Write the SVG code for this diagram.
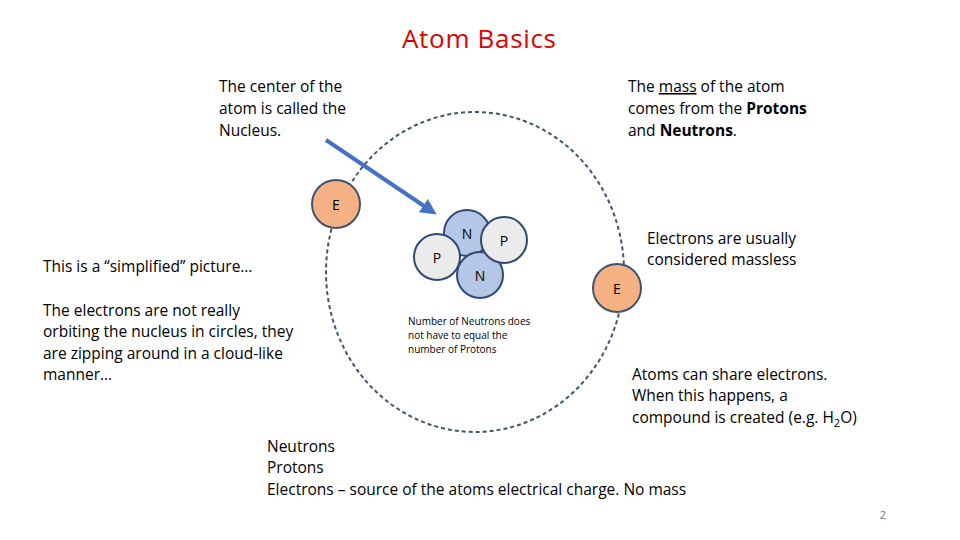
<svg xmlns="http://www.w3.org/2000/svg" width="960" height="540" viewBox="0 0 960 540">
<style>
text{font-family:"Open Sans","Liberation Sans",sans-serif;fill:#000}
.t{font-size:15.5px}
.e{fill:#f4b183;stroke:#41546e;stroke-width:2}
.p{fill:#ebebeb;stroke:#2f4a73;stroke-width:2}
.n{fill:#b4c7e7;stroke:#2f4a73;stroke-width:2}
.l{font-size:14px;text-anchor:middle}
</style>
<defs><marker id="ah" markerWidth="4" markerHeight="4" refX="2" refY="2" orient="auto"><path d="M0,0L4,2L0,4z" fill="#4472c4"/></marker></defs>
<rect width="960" height="540" fill="#fff"/>
<text x="479" y="48" text-anchor="middle" font-size="26" style="fill:#e00000" textLength="154">Atom Basics</text>
<ellipse id="orbit" cx="475" cy="272" rx="149" ry="160" fill="none" stroke="#41546e" stroke-width="2" stroke-dasharray="4,3"/>
<g id="connectors"><line x1="326" y1="140" x2="430" y2="210" stroke="#4472c4" stroke-width="4" marker-end="url(#ah)"/></g>
<g id="n1"><circle class="n" cx="467" cy="233" r="23"/><text class="l" x="467" y="239">N</text></g>
<g id="n2"><circle class="n" cx="480" cy="275" r="23"/><text class="l" x="480" y="281">N</text></g>
<g id="p1"><circle class="p" cx="437" cy="257" r="23"/><text class="l" x="437" y="263">P</text></g>
<g id="p2"><circle class="p" cx="504" cy="240" r="23"/><text class="l" x="504" y="246">P</text></g>
<g id="e1"><circle class="e" cx="336" cy="204" r="24"/><text class="l" x="336" y="210">E</text></g>
<g id="e2"><circle class="e" cx="617" cy="288" r="24"/><text class="l" x="617" y="294">E</text></g>
<text class="t" x="219" y="92">The center of the</text>
<text class="t" x="219" y="114">atom is called the</text>
<text class="t" x="219" y="136">Nucleus.</text>
<text class="t" x="628" y="92">The <tspan text-decoration="underline">mass</tspan> of the atom</text>
<text class="t" x="628" y="114">comes from the <tspan font-weight="bold">Protons</tspan></text>
<text class="t" x="628" y="136">and <tspan font-weight="bold">Neutrons</tspan>.</text>
<text class="t" x="43" y="272">This is a “simplified” picture…</text>
<text class="t" x="43" y="316">The electrons are not really</text>
<text class="t" x="43" y="337">orbiting the nucleus in circles, they</text>
<text class="t" x="43" y="359">are zipping around in a cloud-like</text>
<text class="t" x="43" y="380">manner…</text>
<text class="t" x="647" y="244">Electrons are usually</text>
<text class="t" x="647" y="265">considered massless</text>
<text font-size="10" x="408" y="325">Number of Neutrons does</text>
<text font-size="10" x="408" y="339">not have to equal the</text>
<text font-size="10" x="408" y="353">number of Protons</text>
<text class="t" x="632" y="380">Atoms can share electrons.</text>
<text class="t" x="632" y="401">When this happens, a</text>
<text class="t" x="632" y="423">compound is created (e.g. H<tspan font-size="11" dy="4">2</tspan><tspan dy="-4">O)</tspan></text>
<text class="t" x="267" y="452">Neutrons</text>
<text class="t" x="267" y="473">Protons</text>
<text class="t" x="267" y="495">Electrons – source of the atoms electrical charge.  No mass</text>
<text x="883" y="519" font-size="11" text-anchor="middle" style="fill:#777">2</text>
</svg>
